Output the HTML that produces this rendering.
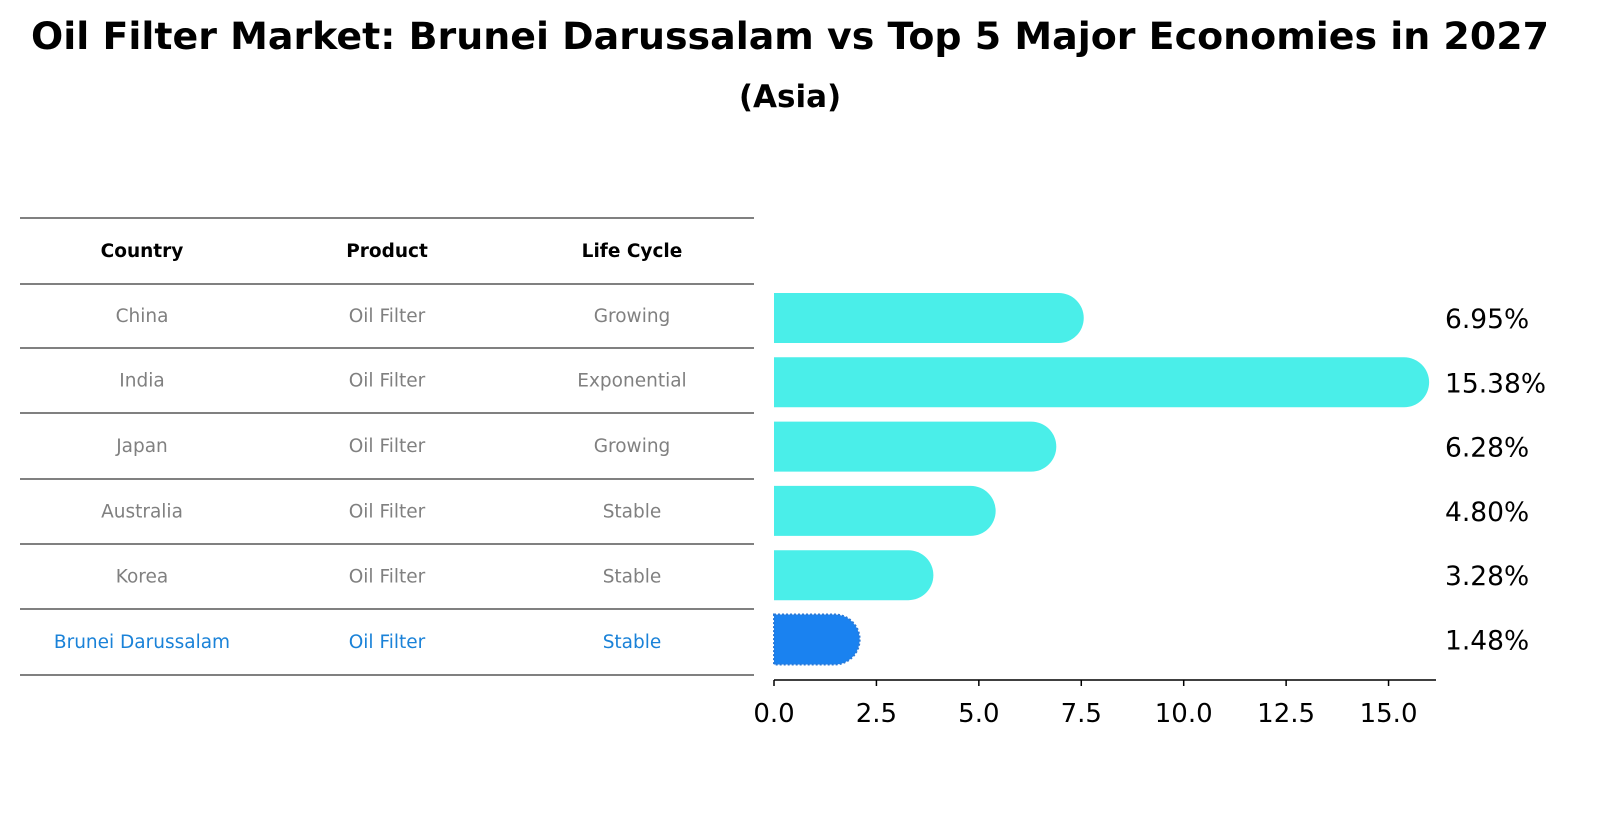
<!DOCTYPE html>
<html><head><meta charset="utf-8"><style>
body{margin:0;background:#fff;font-family:"Liberation Sans","DejaVu Sans",sans-serif;}
svg text{font-family:"DejaVu Sans","Liberation Sans",sans-serif;}
</style></head><body>
<svg id="c" width="1604" height="823" xmlns="http://www.w3.org/2000/svg">
<text x="790" y="49" text-anchor="middle" font-size="37" font-weight="bold" textLength="1518" lengthAdjust="spacingAndGlyphs">Oil Filter Market: Brunei Darussalam vs Top 5 Major Economies in 2027</text>
<text x="790" y="107" text-anchor="middle" font-size="31" font-weight="bold">(Asia)</text>
<g id="tbl"></g>
<g id="bars"></g>
</svg>
<script>
const countries=["China","India","Japan","Australia","Korea","Brunei Darussalam"];
const products=["Oil Filter","Oil Filter","Oil Filter","Oil Filter","Oil Filter","Oil Filter"];
const lifeCycles=["Growing","Exponential","Growing","Stable","Stable","Stable"];
const values=[6.95,15.38,6.28,4.80,3.28,1.48];
const ticks=[0,2.5,5,7.5,10,12.5,15];
const NS="http://www.w3.org/2000/svg";
function mk(t,a,p){const e=document.createElementNS(NS,t);for(const k in a)e.setAttribute(k,a[k]);p.appendChild(e);return e;}
const tbl=document.getElementById('tbl'), bars=document.getElementById('bars');
const x0=774, pxPer=40.97;
const xs=v=>x0+v*pxPer;
const rowY=i=>318+i*64.3;
const lines=[218,284,348,413,479,544,609,675];
lines.forEach(y=>{const l=mk('line',{x1:20,x2:754,y1:y,y2:y,stroke:'#000','stroke-width':1},tbl);

});
const cx=[142,387,632];
["Country","Product","Life Cycle"].forEach((h,j)=>{const t=mk('text',{x:cx[j],y:257,'text-anchor':'middle','font-size':18.5,'font-weight':'bold'},tbl);t.textContent=h;

});
countries.forEach((c,i)=>{const y=(lines[i+1]+lines[i+2])/2+6;const hl=i===countries.length-1;
[c,products[i],lifeCycles[i]].forEach((s,j)=>{const t=mk('text',{x:cx[j],y:y,'text-anchor':'middle','font-size':18.5,fill:hl?'#1a82d8':'#808080'},tbl);t.textContent=s;

});});
values.forEach((v,i)=>{const yc=rowY(i),h=50,r=25,last=i===values.length-1;
const xe=xs(v);
const d=`M${x0},${yc-h/2} L${xe},${yc-h/2} A${r},${r} 0 0 1 ${xe},${yc+h/2} L${x0},${yc+h/2} Z`;
const p=mk('path',{d:d,fill:last?'#1a82f0':'#4aeee9',stroke:last?'#2a7ad8':'none','stroke-width':last?2:0,'stroke-dasharray':last?'2 2':''},bars);


const t=mk('text',{x:1445,y:yc+10,'font-size':26.5},bars);t.textContent=v.toFixed(2)+'%';

});
const ax=mk('line',{x1:x0,x2:1436,y1:680,y2:680,stroke:'#000','stroke-width':1.5},bars);


ticks.forEach(v=>{const tk=mk('line',{x1:xs(v),x2:xs(v),y1:680,y2:686,stroke:'#000','stroke-width':1.5},bars);


const t=mk('text',{x:xs(v),y:722,'text-anchor':'middle','font-size':26},bars);t.textContent=v.toFixed(1);

});
</script>
</body></html>
